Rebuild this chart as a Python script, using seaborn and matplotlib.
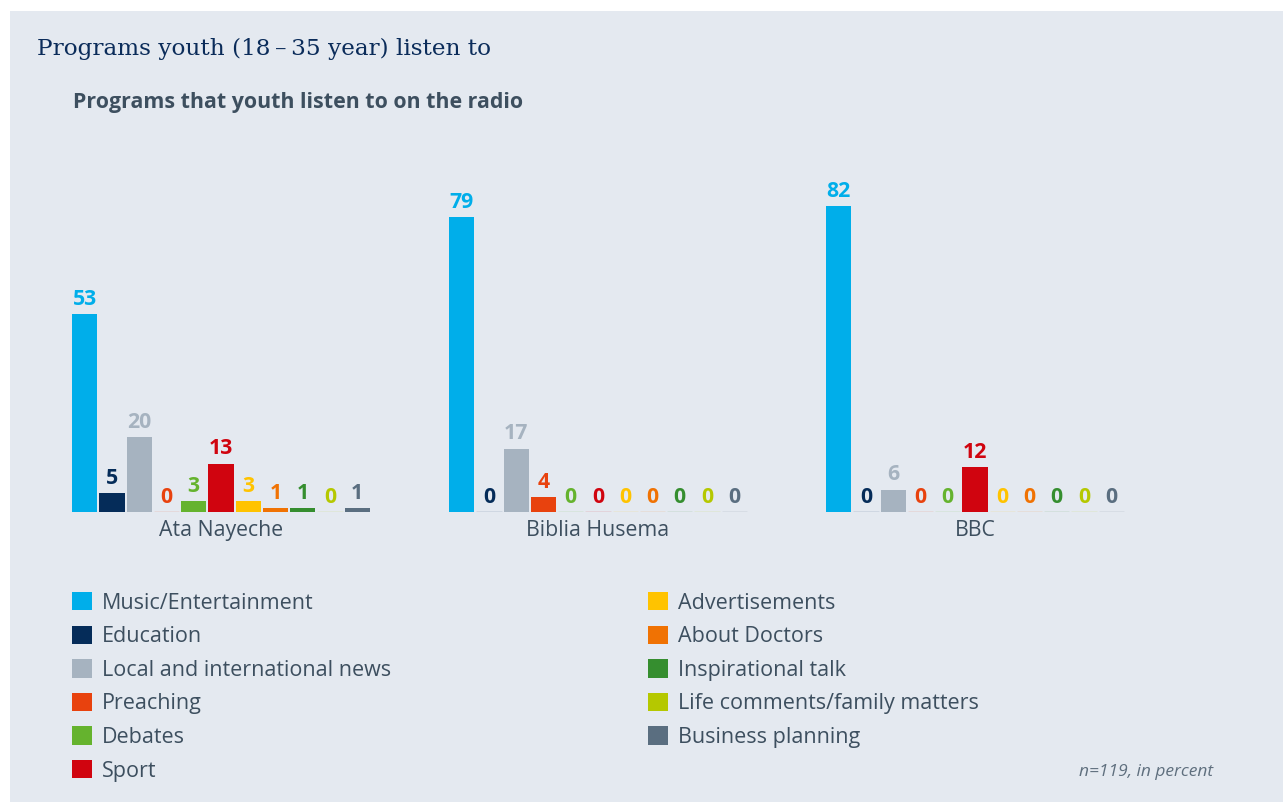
import matplotlib
matplotlib.use("Agg")
import matplotlib.pyplot as plt
import matplotlib.patches as mpatches
from matplotlib.colors import to_rgba
import seaborn as sns
import pandas as pd

# ---- data ----
stations = ["Ata Nayeche", "Biblia Husema", "BBC"]
programs = [
    "Music/Entertainment", "Education", "Local and international news",
    "Preaching", "Debates", "Sport", "Advertisements", "About Doctors",
    "Inspirational talk", "Life comments/family matters", "Business planning",
]
ata_nayeche = [53, 5, 20, 0, 3, 13, 3, 1, 1, 0, 1]
biblia_husema = [79, 0, 17, 4, 0, 0, 0, 0, 0, 0, 0]
bbc = [82, 0, 6, 0, 0, 12, 0, 0, 0, 0, 0]
colors = ["#00aeea", "#052c59", "#a6b3c0", "#e8420e", "#65b32e", "#d0040f",
          "#ffc300", "#f07203", "#358e2f", "#b5c800", "#5a6e80"]

title = "Programs youth (18\u2009\u2013\u200935 year) listen to"
subtitle = "Programs that youth listen to on the radio"
note = "n=119, in percent"

rows = []
for st, vals in zip(stations, [ata_nayeche, biblia_husema, bbc]):
    for p, v in zip(programs, vals):
        rows.append({"station": st, "program": p, "value": v})
df = pd.DataFrame(rows)

BG = "#e4e9f0"
TXT = "#3d4f5f"

sns.set_theme(style="white")
plt.rcParams["font.family"] = ["Open Sans", "Noto Sans", "DejaVu Sans"]

fig = plt.figure(figsize=(12.83, 8.02), dpi=100)
fig.patch.set_facecolor("white")
fig.patches.append(mpatches.Rectangle((10 / 1283, 0), 1, 1 - 11 / 802,
                                      transform=fig.transFigure,
                                      facecolor=BG, edgecolor="none", zorder=-10))

W, H = 1283, 802
ax_left = 32.5 / W
ax_w = 1131 / W
ax_bottom = (H - 512) / H
ax_h = 373 / H
ax = fig.add_axes([ax_left, ax_bottom, ax_w, ax_h])
ax.set_facecolor("none")

sns.barplot(data=df, x="station", y="value", hue="program",
            hue_order=programs, order=stations, palette=colors,
            width=0.795, gap=0.08, ax=ax, saturation=1, legend=True,
            linewidth=0)

for cont, col in zip(ax.containers, colors):
    for patch in cont:
        if patch.get_height() == 0:
            patch.set_edgecolor(to_rgba(col, 0.45))
            patch.set_linewidth(1.0)
        else:
            patch.set_edgecolor("none")
            patch.set_linewidth(0)
    ax.bar_label(cont, fmt="%d", padding=3, color=col,
                 fontsize=15.3, fontweight="bold")

ax.set_ylim(0, 100)
ax.set_xlim(-0.5, 2.5)
ax.set_xlabel("")
ax.set_ylabel("")
ax.set_yticks([])
for s in ax.spines.values():
    s.set_visible(False)
ax.tick_params(axis="x", length=0, pad=6, labelsize=15.3, labelcolor=TXT)

handles, labs = ax.get_legend_handles_labels()
ax.get_legend().remove()
for h in handles:
    h.set_edgecolor("none")
    h.set_linewidth(0)
fs_leg = 15.5
fig.legend(handles, labs, loc="upper left",
           bbox_to_anchor=(72 / W, 1 - 592 / H), ncol=2, frameon=False,
           fontsize=fs_leg, labelcolor=TXT, handlelength=0.93, handleheight=0.93,
           handletextpad=0.46, labelspacing=0.56, columnspacing=11.95,
           borderpad=0, borderaxespad=0)

fig.text(37 / W, 1 - 55 / H, title, family=["DejaVu Serif"],
         fontsize=16.7, color="#0b2c5a", va="baseline", ha="left")
fig.text(73 / W, 1 - 108 / H, subtitle, fontsize=15.4, fontweight="bold",
         color=TXT, va="baseline", ha="left")
fig.text(1213 / W, 1 - 776 / H, note, fontsize=12.5, style="italic",
         color="#5f6f7e", va="baseline", ha="right")

fig.savefig("out.png", dpi=100, facecolor=fig.get_facecolor())
